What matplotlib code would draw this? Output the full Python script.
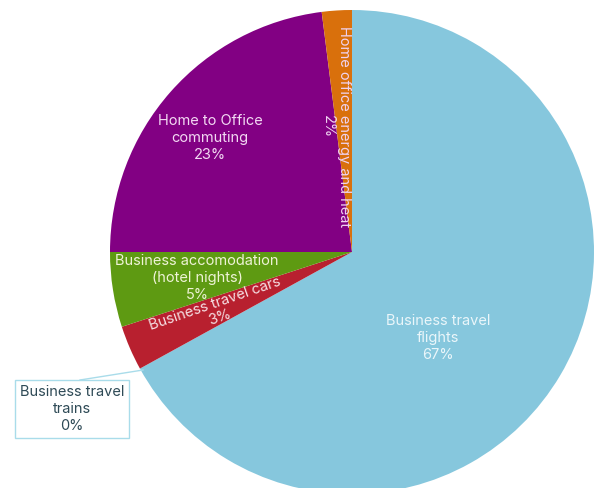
import matplotlib
matplotlib.use("Agg")
import matplotlib.pyplot as plt

# Emission sources and their share of the total (%)
categories = [
    "Business travel\nflights",
    "Business travel\ntrains",
    "Business travel cars",
    "Business accomodation\n(hotel nights)",
    "Home to Office\ncommuting",
    "Home office energy and heat",
]
shares = [67, 0, 3, 5, 23, 2]
colors = ["#86c7dd", "#86c7dd", "#b8202f", "#5e9a12", "#820083", "#d9700c"]
text_colors = ["#eaf6fa", "#2e4a56", "#f6dfe3", "#eef3d6", "#f3d9f3", "#efd3f0"]

W, H = 598, 488
fig = plt.figure(figsize=(W / 100, H / 100), dpi=100)
ax = fig.add_axes([0, 0, 1, 1])

cx, cy, r = 352, H - 252, 242
ax.pie(shares, colors=colors, startangle=90, counterclock=False,
       center=(cx, cy), radius=r, wedgeprops=dict(linewidth=0))
ax.set_xlim(0, W)
ax.set_ylim(0, H)
ax.set_aspect("equal")
ax.axis("off")

plt.rcParams["font.family"] = ["Inter", "DejaVu Sans"]
fs = 10.5
ls = 1.3

def lbl(i):
    return f"{categories[i]}\n{shares[i]}%"

# flights
ax.text(438, H - 338, lbl(0), ha="center", va="center", fontsize=fs,
        color=text_colors[0], linespacing=ls)
# commuting
ax.text(210, H - 138, lbl(4), ha="center", va="center", fontsize=fs,
        color=text_colors[4], linespacing=ls)
# accommodation
ax.text(197, H - 278, lbl(3), ha="center", va="center", fontsize=fs,
        color=text_colors[3], linespacing=ls)
# cars (rotated along the wedge)
ax.text(217, H - 311, lbl(2), ha="center", va="center", fontsize=fs,
        color=text_colors[2], rotation=19, rotation_mode="anchor",
        linespacing=1.05)
# home office (vertical)
ax.text(336, H - 127, lbl(5), ha="center", va="center", fontsize=fs,
        color=text_colors[5], rotation=-90, rotation_mode="anchor",
        linespacing=1.25)
# trains: outside label with a box and leader line
ax.plot([80, 143], [H - 380, H - 370], color="#a9dcea", lw=1.0)
ax.text(72, H - 409, lbl(1), ha="center", va="center", fontsize=fs,
        color=text_colors[1], linespacing=ls,
        bbox=dict(boxstyle="square,pad=0.3", fc="white", ec="#a9dcea", lw=1.0))

fig.savefig("out.png", dpi=100)
